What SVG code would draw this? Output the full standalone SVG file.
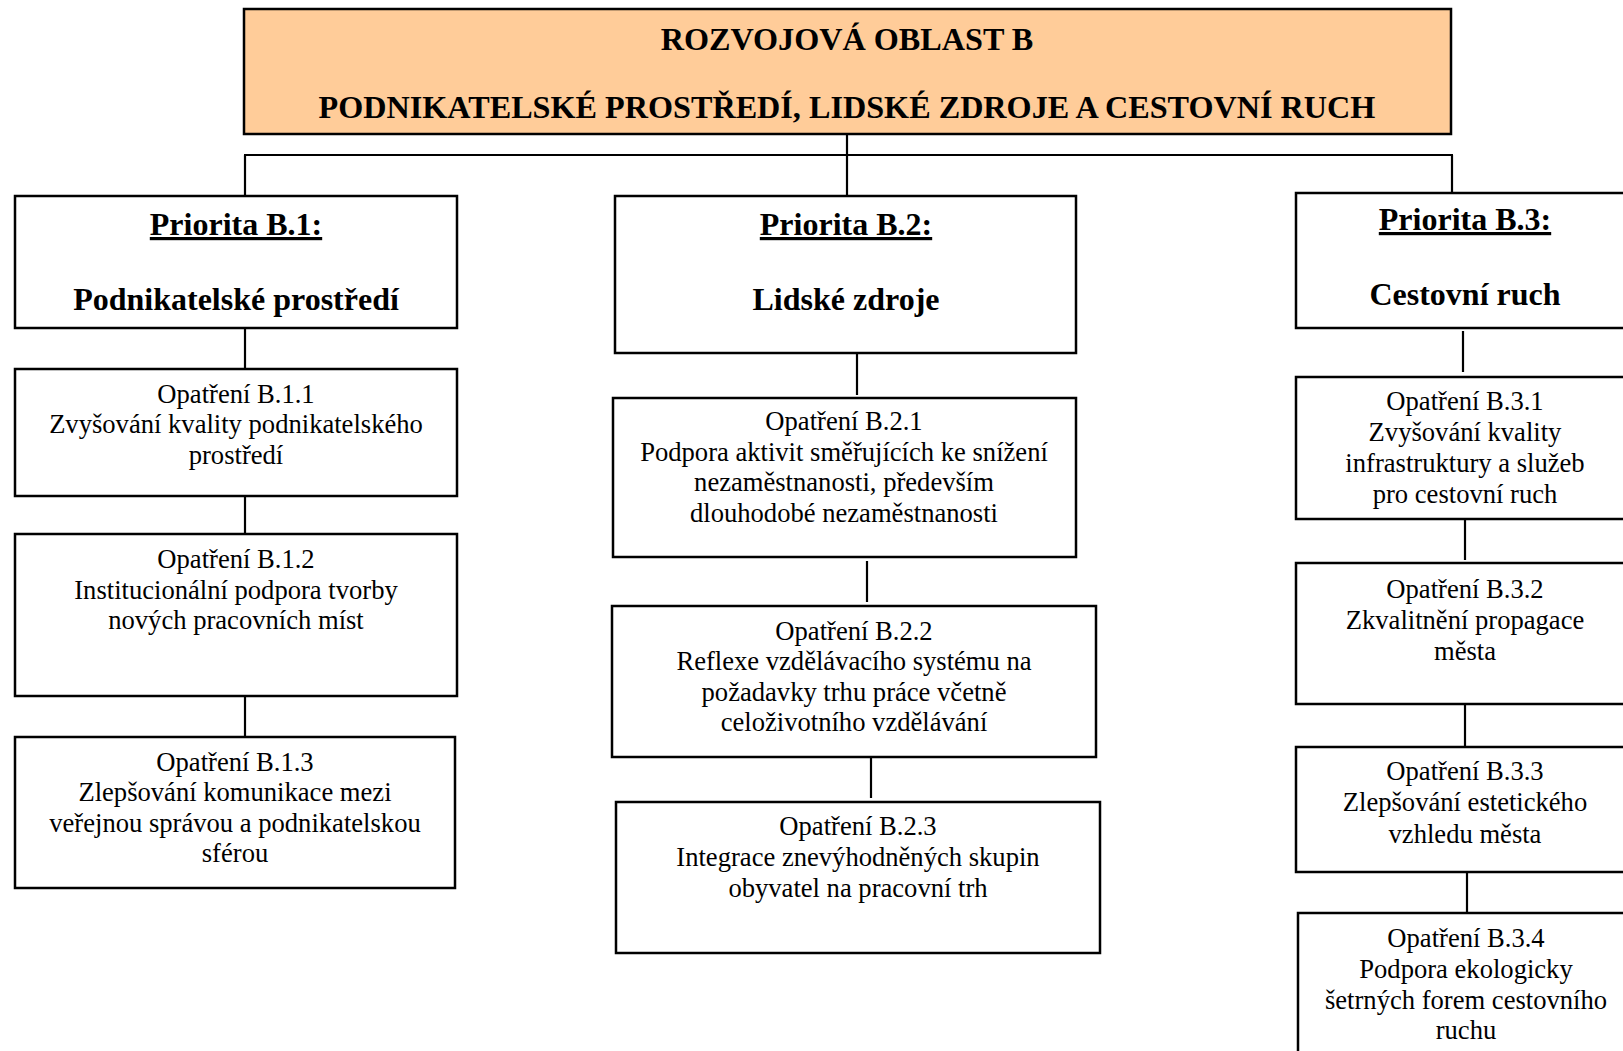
<svg xmlns="http://www.w3.org/2000/svg" width="1623" height="1051" viewBox="0 0 1623 1051">
<style>
  .box { fill: #ffffff; stroke: #000000; stroke-width: 2.5; }
  .title { fill: #ffcc99; stroke: #000000; stroke-width: 2.5; }
  .conn line { stroke: #000000; stroke-width: 2.2; }
  text { font-family: "Liberation Serif", "Times New Roman", serif; fill: #000000; text-anchor: middle; }
  .hb { font-size: 32.2px; font-weight: bold; }
  .pr { font-size: 32px; font-weight: bold; }
  .u { text-decoration: underline; }
  .m { font-size: 26.6px; }
</style>
<rect x="0" y="0" width="1623" height="1051" fill="#ffffff"/>
<g id="connectors" class="conn">
  <line x1="847" y1="134" x2="847" y2="196"/>
  <line x1="244" y1="155" x2="1453" y2="155"/>
  <line x1="245" y1="155" x2="245" y2="196"/>
  <line x1="1452" y1="155" x2="1452" y2="193"/>
  <line x1="245" y1="328" x2="245" y2="369"/>
  <line x1="245" y1="496" x2="245" y2="534"/>
  <line x1="245" y1="696" x2="245" y2="737"/>
  <line x1="857" y1="353" x2="857" y2="395"/>
  <line x1="867" y1="561" x2="867" y2="602"/>
  <line x1="871" y1="757" x2="871" y2="798"/>
  <line x1="1463" y1="331" x2="1463" y2="372"/>
  <line x1="1465" y1="519" x2="1465" y2="560"/>
  <line x1="1465" y1="704" x2="1465" y2="747"/>
  <line x1="1467" y1="872" x2="1467" y2="913"/>
</g>
<g id="title">
  <rect class="title" x="244" y="9" width="1207" height="125"/>
  <text class="hb" x="847" y="50">ROZVOJOVÁ OBLAST B</text>
  <text class="hb" x="847" y="118">PODNIKATELSKÉ PROSTŘEDÍ, LIDSKÉ ZDROJE A CESTOVNÍ RUCH</text>
</g>
<g id="prioritaB1">
  <rect class="box" x="15" y="196" width="442" height="132"/>
  <text class="pr u" x="236" y="235">Priorita B.1:</text>
  <text class="pr" x="236" y="310">Podnikatelské prostředí</text>
</g>
<g id="opatreniB11">
  <rect class="box" x="15" y="369" width="442" height="127"/>
  <text class="m" x="236" y="403">Opatření B.1.1</text>
  <text class="m" x="236" y="433">Zvyšování kvality podnikatelského</text>
  <text class="m" x="236" y="464">prostředí</text>
</g>
<g id="opatreniB12">
  <rect class="box" x="15" y="534" width="442" height="162"/>
  <text class="m" x="236" y="568">Opatření B.1.2</text>
  <text class="m" x="236" y="599">Institucionální podpora tvorby</text>
  <text class="m" x="236" y="629">nových pracovních míst</text>
</g>
<g id="opatreniB13">
  <rect class="box" x="15" y="737" width="440" height="151"/>
  <text class="m" x="235" y="771">Opatření B.1.3</text>
  <text class="m" x="235" y="801">Zlepšování komunikace mezi</text>
  <text class="m" x="235" y="832">veřejnou správou a podnikatelskou</text>
  <text class="m" x="235" y="862">sférou</text>
</g>
<g id="prioritaB2">
  <rect class="box" x="615" y="196" width="461" height="157"/>
  <text class="pr u" x="846" y="235">Priorita B.2:</text>
  <text class="pr" x="846" y="310">Lidské zdroje</text>
</g>
<g id="opatreniB21">
  <rect class="box" x="613" y="398" width="463" height="159"/>
  <text class="m" x="844" y="430">Opatření B.2.1</text>
  <text class="m" x="844" y="461">Podpora aktivit směřujících ke snížení</text>
  <text class="m" x="844" y="491">nezaměstnanosti, především</text>
  <text class="m" x="844" y="522">dlouhodobé nezaměstnanosti</text>
</g>
<g id="opatreniB22">
  <rect class="box" x="612" y="606" width="484" height="151"/>
  <text class="m" x="854" y="640">Opatření B.2.2</text>
  <text class="m" x="854" y="670">Reflexe vzdělávacího systému na</text>
  <text class="m" x="854" y="701">požadavky trhu práce včetně</text>
  <text class="m" x="854" y="731">celoživotního vzdělávání</text>
</g>
<g id="opatreniB23">
  <rect class="box" x="616" y="802" width="484" height="151"/>
  <text class="m" x="858" y="835">Opatření B.2.3</text>
  <text class="m" x="858" y="866">Integrace znevýhodněných skupin</text>
  <text class="m" x="858" y="897">obyvatel na pracovní trh</text>
</g>
<g id="prioritaB3">
  <rect class="box" x="1296" y="193" width="340" height="135"/>
  <text class="pr u" x="1465" y="230">Priorita B.3:</text>
  <text class="pr" x="1465" y="305">Cestovní ruch</text>
</g>
<g id="opatreniB31">
  <rect class="box" x="1296" y="377" width="340" height="142"/>
  <text class="m" x="1465" y="410">Opatření B.3.1</text>
  <text class="m" x="1465" y="441">Zvyšování kvality</text>
  <text class="m" x="1465" y="472">infrastruktury a služeb</text>
  <text class="m" x="1465" y="503">pro cestovní ruch</text>
</g>
<g id="opatreniB32">
  <rect class="box" x="1296" y="563" width="340" height="141"/>
  <text class="m" x="1465" y="598">Opatření B.3.2</text>
  <text class="m" x="1465" y="629">Zkvalitnění propagace</text>
  <text class="m" x="1465" y="660">města</text>
</g>
<g id="opatreniB33">
  <rect class="box" x="1296" y="747" width="340" height="125"/>
  <text class="m" x="1465" y="780">Opatření B.3.3</text>
  <text class="m" x="1465" y="811">Zlepšování estetického</text>
  <text class="m" x="1465" y="843">vzhledu města</text>
</g>
<g id="opatreniB34">
  <rect class="box" x="1298" y="913" width="340" height="160"/>
  <text class="m" x="1466" y="947">Opatření B.3.4</text>
  <text class="m" x="1466" y="978">Podpora ekologicky</text>
  <text class="m" x="1466" y="1009">šetrných forem cestovního</text>
  <text class="m" x="1466" y="1039">ruchu</text>
</g>
</svg>
